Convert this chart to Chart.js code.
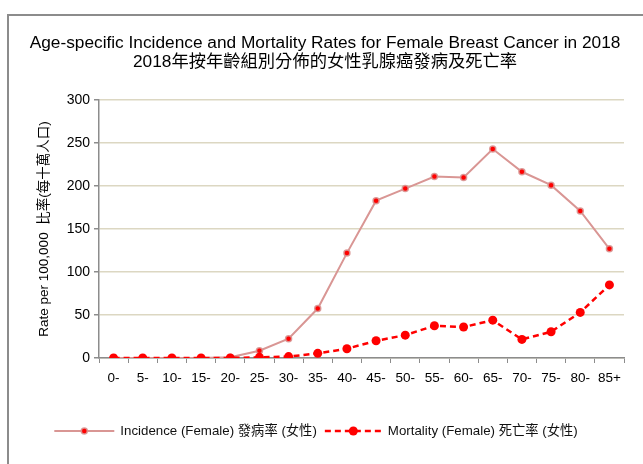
<!DOCTYPE html>
<html>
<head>
<meta charset="utf-8">
<script src="https://cdn.jsdelivr.net/npm/chart.js@4"></script>
<style>
  html, body { margin: 0; padding: 0; background: #fff; overflow: hidden; }
  #box {
    position: absolute; left: 7px; top: 14px;
    width: 700px; height: 520px;
    border: 2px solid #8c8c8c;
  }
  #wrap { position: absolute; left: 0; top: 0; width: 634px; height: 448px; }
</style>
</head>
<body>
<div id="box"><div id="wrap"><canvas id="rateChart"></canvas></div></div>
<script>
const ageGroups = ["0-", "5-", "10-", "15-", "20-", "25-", "30-", "35-", "40-", "45-",
  "50-", "55-", "60-", "65-", "70-", "75-", "80-", "85+"];
const incidence = [0, 0, 0, 0, 0.8, 8.5, 22.4, 57.5, 122, 183, 197, 211, 210, 243, 216.6, 201, 171, 127];
const mortality = [0, 0, 0, 0, 0.1, 0.8, 1.6, 5.4, 10.8, 20, 26.6, 37.5, 36, 44, 21.6, 30.5, 53, 85];
const yTicks = [0, 50, 100, 150, 200, 250, 300];

const FONT = "Arial, 'Liberation Sans', 'Noto Sans CJK TC', sans-serif";

// legend drawn as line + marker, like the original spreadsheet chart
const lineLegend = {
  id: "lineLegend",
  afterDraw(chart) {
    const ctx = chart.ctx;
    const items = [
      { text: "Incidence (Female) 發病率 (女性)", ds: chart.data.datasets[0], len: 60 },
      { text: "Mortality (Female) 死亡率 (女性)", ds: chart.data.datasets[1], len: 57 },
    ];
    ctx.save();
    ctx.font = "13.3px " + FONT;
    ctx.textBaseline = "middle";
    let total = 0;
    items.forEach((it, i) => {
      it.w = it.len + 6 + ctx.measureText(it.text).width;
      total += it.w + (i ? 8 : 0);
    });
    let x = chart.width / 2 - total / 2 - 10;
    const y = 415;
    items.forEach((it) => {
      const ds = it.ds;
      ctx.strokeStyle = ds.borderColor;
      ctx.lineWidth = ds.borderWidth;
      ctx.setLineDash(ds.borderDash || []);
      ctx.beginPath();
      ctx.moveTo(x, y);
      ctx.lineTo(x + it.len, y);
      ctx.stroke();
      ctx.setLineDash([]);
      ctx.beginPath();
      ctx.arc(x + it.len / 2, y, ds.pointRadius, 0, Math.PI * 2);
      ctx.fillStyle = ds.pointBackgroundColor;
      ctx.fill();
      if (ds.pointBorderWidth) {
        ctx.lineWidth = ds.pointBorderWidth;
        ctx.strokeStyle = ds.pointBorderColor;
        ctx.stroke();
      }
      ctx.fillStyle = "#111";
      ctx.fillText(it.text, x + it.len + 6, y);
      x += it.w + 8;
    });
    ctx.restore();
  },
};

const ctx = document.getElementById("rateChart").getContext("2d");
new Chart(ctx, {
  type: "line",
  data: {
    labels: ageGroups,
    datasets: [
      {
        label: "Incidence (Female) 發病率 (女性)",
        data: incidence,
        borderColor: "#d99694",
        borderWidth: 2,
        pointRadius: 3,
        pointBackgroundColor: "#ff0000",
        pointBorderColor: "rgba(217,150,148,0.9)",
        pointBorderWidth: 1.5,
        order: 1,
      },
      {
        label: "Mortality (Female) 死亡率 (女性)",
        data: mortality,
        borderColor: "#ff0000",
        borderWidth: 2.5,
        borderDash: [6, 4],
        pointRadius: 4.5,
        pointBackgroundColor: "#ff0000",
        pointBorderColor: "#ff0000",
        pointBorderWidth: 0,
        order: 0,
      },
    ],
  },
  options: {
    responsive: true,
    maintainAspectRatio: false,
    animation: false,
    layout: { padding: { left: 0, right: 2, top: 0, bottom: 76 } },
    plugins: {
      legend: { display: false },
      tooltip: { enabled: false },
      title: {
        display: true,
        text: ["Age-specific Incidence and Mortality Rates for Female Breast Cancer in 2018",
          "2018年按年齡組別分佈的女性乳腺癌發病及死亡率"],
        color: "#000",
        font: { family: FONT, size: 17.3, weight: "normal", lineHeight: 1.1 },
        padding: { top: 18, bottom: 28 },
      },
    },
    scales: {
      x: {
        offset: true,
        grid: {
          display: true,
          offset: true,
          drawOnChartArea: false,
          drawTicks: true,
          tickLength: 5,
          color: "#8c8c8c",
          tickColor: "#8c8c8c",
        },
        border: { color: "#8c8c8c", width: 1.5 },
        ticks: { color: "#000", font: { family: FONT, size: 13.5 }, padding: 7, maxRotation: 0, autoSkip: false },
        afterFit: (scale) => { scale.height = 30; },
      },
      y: {
        min: 0,
        max: 300,
        afterBuildTicks: (scale) => { scale.ticks = yTicks.map((v) => ({ value: v })); },
        grid: { color: "#dcd7c2", lineWidth: 1.5, tickLength: 5, tickColor: "#8c8c8c" },
        border: { color: "#8c8c8c", width: 1.5 },
        ticks: { color: "#000", font: { family: FONT, size: 14 }, padding: 4 },
        title: {
          display: true,
          text: "Rate per 100,000  比率(每十萬人口)",
          color: "#000",
          font: { family: FONT, size: 13.5 },
          padding: { top: 27, bottom: 0 },
        },
        afterFit: (scale) => { scale.width = 90; },
      },
      // empty right-hand spacer so the plot ends where the original does
      ySpacer: {
        position: "right",
        min: 0,
        max: 300,
        grid: { display: false },
        border: { display: false },
        ticks: { display: false },
        afterFit: (scale) => { scale.width = 17; },
      },
    },
  },
  plugins: [lineLegend],
});
</script>
</body>
</html>
